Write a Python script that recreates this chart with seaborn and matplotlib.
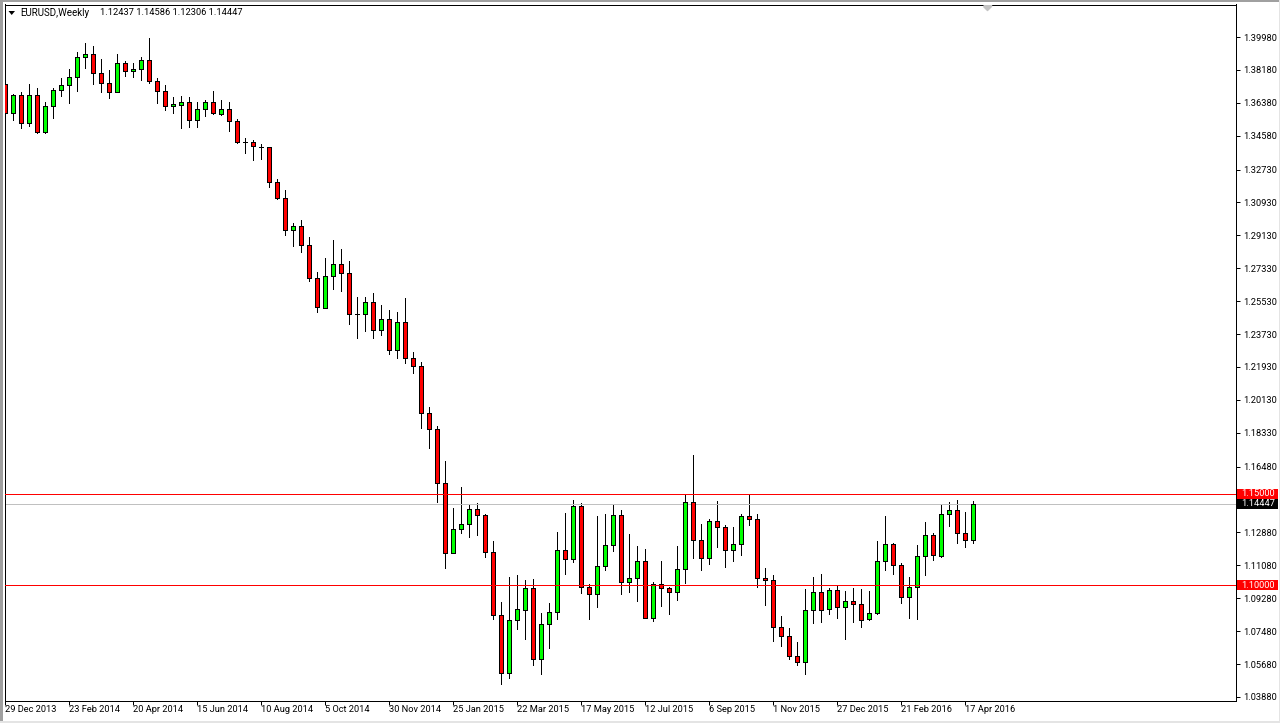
import pandas as pd
import matplotlib
matplotlib.use("Agg")
import matplotlib.pyplot as plt
from matplotlib.patches import Rectangle
import seaborn as sns

# weekly EURUSD candles
opens = [1.3739,1.3581,1.3679,1.3526,1.3679,1.3480,1.3619,1.3706,1.3734,1.3778,
         1.3887,1.3903,1.3799,1.3745,1.3696,1.3854,1.3810,1.3821,1.3871,1.3756,
         1.3701,1.3619,1.3624,1.3641,1.3542,1.3603,1.3641,1.3579,1.3603,1.3537,
         1.3425,1.3422,1.3398,1.3395,1.3203,1.3116,1.2941,1.2963,1.2859,1.2678,
         1.2514,1.2689,1.2755,1.2705,1.2481,1.2481,1.2547,1.2394,1.2454,1.2284,
         1.2437,1.2240,1.2197,1.1940,1.1852,1.1556,1.1174,1.1305,1.1333,1.1415,
         1.1382,1.1179,1.0835,1.0517,1.0807,1.0862,1.0982,1.0594,1.0786,1.0851,
         1.1190,1.1141,1.1431,1.0988,1.0950,1.1103,1.1218,1.1382,1.1015,1.1037,
         1.1130,1.0818,1.1004,1.0982,1.0964,1.1086,1.1453,1.1245,1.1147,1.1349,
         1.1316,1.1190,1.1223,1.1376,1.1360,1.1037,1.1026,1.0769,1.0720,1.0610,
         1.0581,1.0862,1.0961,1.0868,1.0971,1.0878,1.0911,1.0895,1.0813,1.0846,
         1.1130,1.1223,1.1108,1.0933,1.0988,1.1157,1.1272,1.1161,1.1387,1.1409,
         1.1283,1.12437]
highs = [1.3818,1.3685,1.3696,1.3741,1.3717,1.3641,1.3721,1.3772,1.3823,1.3916,
         1.3965,1.3947,1.3878,1.3818,1.3903,1.3867,1.3856,1.3889,1.3993,1.3772,
         1.3735,1.3668,1.3674,1.3668,1.3641,1.3652,1.3703,1.3653,1.3641,1.3548,
         1.3444,1.3435,1.3413,1.3395,1.3220,1.3161,1.2979,1.2995,1.2902,1.2711,
         1.2788,1.2886,1.2837,1.2771,1.2574,1.2574,1.2596,1.2530,1.2503,1.2492,
         1.2569,1.2273,1.2219,1.1972,1.1869,1.1677,1.1420,1.1535,1.1442,1.1447,
         1.1387,1.1240,1.0906,1.1043,1.1054,1.1026,1.1032,1.0846,1.0900,1.1289,
         1.1393,1.1464,1.1447,1.1004,1.1376,1.1387,1.1436,1.1409,1.1278,1.1212,
         1.1196,1.1015,1.1130,1.0988,1.1212,1.1491,1.1712,1.1333,1.1360,1.1458,
         1.1327,1.1316,1.1387,1.1497,1.1387,1.1092,1.1054,1.0829,1.0764,1.0687,
         1.0977,1.1043,1.1059,1.0982,1.0993,1.0966,1.0982,1.0977,1.0966,1.1240,
         1.1376,1.1229,1.1119,1.1043,1.1218,1.1343,1.1283,1.1436,1.1453,1.1464,
         1.1398,1.14586]
lows = [1.3571,1.3544,1.3502,1.3513,1.3475,1.3475,1.3557,1.3675,1.3639,1.3704,
        1.3828,1.3743,1.3699,1.3666,1.3696,1.3786,1.3779,1.3763,1.3745,1.3639,
        1.3599,1.3584,1.3502,1.3507,1.3507,1.3568,1.3579,1.3573,1.3486,1.3420,
        1.3365,1.3327,1.3332,1.3179,1.3113,1.2915,1.2856,1.2824,1.2665,1.2495,
        1.2514,1.2621,1.2610,1.2430,1.2353,1.2391,1.2353,1.2370,1.2266,1.2244,
        1.2216,1.2162,1.1859,1.1750,1.1456,1.1095,1.1174,1.1285,1.1265,1.1274,
        1.1155,1.0816,1.0461,1.0493,1.0760,1.0705,1.0563,1.0515,1.0658,1.0815,
        1.1061,1.1126,1.0958,1.0816,1.0882,1.1084,1.1188,1.0953,1.0964,1.0915,
        1.0818,1.0805,1.0887,1.0844,1.0920,1.1013,1.1150,1.1084,1.1117,1.1210,
        1.1100,1.1133,1.1166,1.1330,1.0991,1.0893,1.0696,1.0668,1.0597,1.0565,
        1.0515,1.0794,1.0800,1.0844,1.0822,1.0707,1.0800,1.0772,1.0807,1.0840,
        1.1083,1.1061,1.0904,1.0822,1.0816,1.1055,1.1137,1.1155,1.1325,1.1232,
        1.1210,1.12306]
closes = [1.3581,1.3679,1.3526,1.3679,1.3480,1.3619,1.3706,1.3734,1.3778,1.3887,
          1.3903,1.3799,1.3745,1.3696,1.3854,1.3810,1.3821,1.3871,1.3756,1.3701,
          1.3619,1.3630,1.3641,1.3542,1.3603,1.3641,1.3581,1.3603,1.3537,1.3425,
          1.3424,1.3400,1.3397,1.3203,1.3116,1.2941,1.2963,1.2859,1.2678,1.2519,
          1.2689,1.2755,1.2705,1.2481,1.2480,1.2547,1.2394,1.2454,1.2284,1.2437,
          1.2240,1.2197,1.1940,1.1852,1.1556,1.1174,1.1305,1.1333,1.1415,1.1382,
          1.1179,1.0835,1.0517,1.0807,1.0868,1.0982,1.0594,1.0786,1.0851,1.1190,
          1.1141,1.1431,1.0988,1.0950,1.1103,1.1218,1.1382,1.1015,1.1037,1.1130,
          1.0818,1.1004,1.0982,1.0964,1.1086,1.1453,1.1245,1.1147,1.1349,1.1316,
          1.1190,1.1223,1.1376,1.1360,1.1037,1.1026,1.0769,1.0720,1.0610,1.0581,
          1.0862,1.0961,1.0865,1.0971,1.0878,1.0911,1.0895,1.0807,1.0846,1.1130,
          1.1223,1.1108,1.0933,1.0988,1.1157,1.1272,1.1163,1.1387,1.1409,1.1283,
          1.1244,1.14447]

# date labels sit every 8 candles
date_labels = ["29 Dec 2013", "23 Feb 2014", "20 Apr 2014", "15 Jun 2014", "10 Aug 2014", "5 Oct 2014",
               "30 Nov 2014", "25 Jan 2015", "22 Mar 2015", "17 May 2015", "12 Jul 2015", "6 Sep 2015",
               "1 Nov 2015", "27 Dec 2015", "21 Feb 2016", "17 Apr 2016"]
price_ticks = [1.39980, 1.38180, 1.36380, 1.34580, 1.32730, 1.30930, 1.29130, 1.27330, 1.25530, 1.23730,
               1.21930, 1.20130, 1.18330, 1.16480, 1.12880, 1.11080, 1.09280, 1.07480, 1.05680, 1.03880]
level_lines = [1.15000, 1.10000]
last_price = closes[-1]
symbol_text = "EURUSD,Weekly"
ohlc_text = "1.12437 1.14586 1.12306 1.14447"

WIDTH, HEIGHT = 1280, 723
PX = 0.72  # one pixel in points at dpi 100
FONT_SIZE = 6.7

sns.set_theme(style="white")
plt.rcParams["font.family"] = ["Roboto", "DejaVu Sans"]

candles = pd.DataFrame({"i": range(len(opens)), "open": opens, "high": highs, "low": lows, "close": closes})
candles["body_low"] = candles[["open", "close"]].min(axis=1)
candles["body_size"] = (candles["open"] - candles["close"]).abs()
wicks = candles.melt(id_vars="i", value_vars=["high", "low"], value_name="price").sort_values("i")

fig = plt.figure(figsize=(WIDTH / 100, HEIGHT / 100), dpi=100, facecolor="white")
ax = fig.add_axes([4.5 / WIDTH, 1 - 700.5 / HEIGHT, 1231 / WIDTH, 696 / HEIGHT])

# wicks first so the bodies cover them
sns.lineplot(data=wicks, x="i", y="price", units="i", estimator=None, color="black", linewidth=PX,
             legend=False, antialiased=False, ax=ax)

# bodies, one barplot per colour
for name, colour in [("up", "#00ff00"), ("down", "#ff0000")]:
    if name == "up":
        part = candles[candles["close"] > candles["open"]]
    else:
        part = candles[candles["close"] <= candles["open"]]
    sns.barplot(data=part, x="i", y="body_size", bottom=part["body_low"].values, native_scale=True, width=0.5,
                color=colour, saturation=1, edgecolor="black", linewidth=PX, errorbar=None,
                antialiased=False, zorder=3, ax=ax)

ax.set_xlim(-0.1, 153.78)
ax.set_ylim(1.03684, 1.41758)
ax.set_xlabel("")
ax.set_ylabel("")

# horizontal levels and the current price line
for level in level_lines:
    ax.axhline(level, color="#ff0000", linewidth=PX, zorder=5, antialiased=False)
ax.axhline(last_price, color="#c0c0c0", linewidth=PX, zorder=2, antialiased=False)

# price scale on the right
ax.yaxis.tick_right()
ax.set_yticks(price_ticks)
ax.set_yticklabels([f"{p:.5f}" for p in price_ticks], fontsize=FONT_SIZE, color="black")
ax.tick_params(axis="y", length=3, width=PX, pad=2.2, color="black", right=True)

# date scale, labels start at the tick
tick_pos = [8 * n for n in range(len(date_labels))]
ax.set_xticks(tick_pos)
ax.set_xticklabels(date_labels, fontsize=FONT_SIZE, color="black", ha="left")
ax.tick_params(axis="x", length=3, width=PX, pad=0.6, color="black", bottom=True)

for spine in ax.spines.values():
    spine.set_color("black")
    spine.set_linewidth(PX)

# coloured price tags on the scale
tag_trans = ax.get_yaxis_transform()
for value, colour in [(level_lines[0], "#ff0000"), (last_price, "black"), (level_lines[1], "#ff0000")]:
    ax.add_patch(Rectangle((1.0014, value - 0.0028), 0.0333, 0.0056, transform=tag_trans, facecolor=colour,
                           edgecolor="none", clip_on=False, zorder=6))
    ax.text(1.00447, value, f"{value:.5f}", transform=tag_trans, color="white", fontsize=FONT_SIZE, va="center",
            ha="left", zorder=7, clip_on=False)

# little grey shift marker on the top edge
ax.plot([122.75], [1.4169], marker=[(-1, 1), (1, 1), (1, 0), (0, -1), (-1, 0)], markersize=5.8, color="#c4c4c4",
        linestyle="none", zorder=4)

# header text with the small menu triangle
header_y = 1 - 12.5 / HEIGHT
fig.text(20 / WIDTH, header_y, symbol_text, fontsize=FONT_SIZE + 0.3, color="black", va="center", ha="left")
fig.text(100 / WIDTH, header_y, ohlc_text, fontsize=FONT_SIZE, color="black", va="center", ha="left")
fig.add_artist(plt.Polygon([[8.5 / WIDTH, 1 - 11 / HEIGHT], [15 / WIDTH, 1 - 11 / HEIGHT], [11.7 / WIDTH, 1 - 15 / HEIGHT]],
                           closed=True, facecolor="black", edgecolor="none", transform=fig.transFigure))

# window frame around the chart
for x, y, w, h, colour in [(0, 0, 2.5, HEIGHT, "#a0a0a0"), (0, HEIGHT - 2, WIDTH, 2, "#a0a0a0"),
                           (WIDTH - 1.5, 0, 1.5, HEIGHT, "#e4e4e4"), (0, 0, WIDTH, 2, "#e4e4e4")]:
    fig.add_artist(Rectangle((x / WIDTH, y / HEIGHT), w / WIDTH, h / HEIGHT, transform=fig.transFigure,
                             facecolor=colour, edgecolor="none"))

fig.savefig("out.png", dpi=100)
